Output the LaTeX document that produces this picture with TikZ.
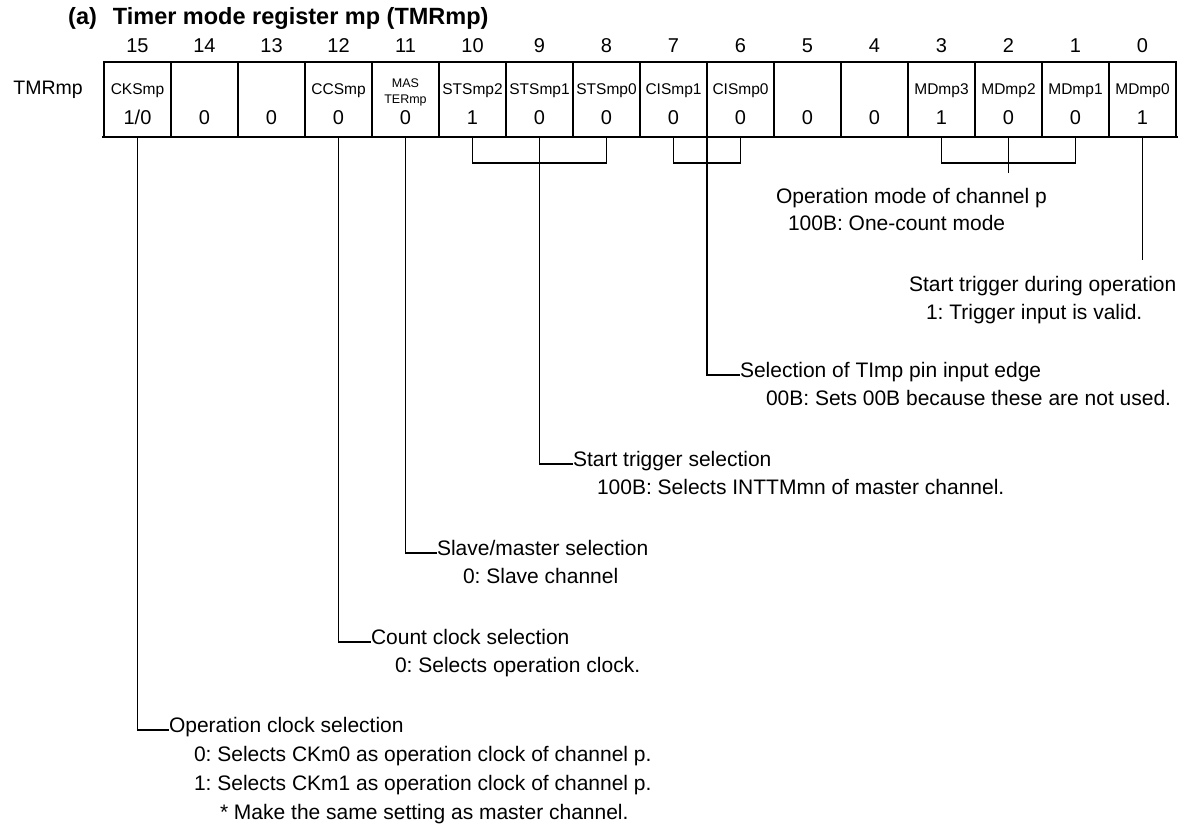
\documentclass[tikz,border=0pt]{standalone}
\usepackage{fontspec}
\setmainfont{Liberation Sans}
\frenchspacing
\begin{document}
\begin{tikzpicture}[x=1pt,y=-1pt,
  cell/.style={draw,line width=1.5pt,minimum width=67pt,minimum height=75pt,inner sep=0pt,outer sep=0pt,anchor=north west},
  txt/.style={inner sep=0pt,outer sep=0pt,anchor=base west,font=\fontsize{21}{25}\selectfont},
  num/.style={inner sep=0pt,font=\fontsize{20}{24}\selectfont},
  nm/.style={inner sep=0pt,anchor=base,font=\fontsize{15.5}{18}\selectfont},
  smallnm/.style={inner sep=0pt,anchor=base,font=\fontsize{12.5}{15}\selectfont},
  val/.style={inner sep=0pt,anchor=base,font=\fontsize{20}{24}\selectfont},
  lead/.style={line width=1.6pt}]
\useasboundingbox[fill=white] (0,0) rectangle (1188,834);

% title
\node[inner sep=0pt,anchor=base west,font=\fontsize{23.5}{28}\selectfont\bfseries] (title) at (68,25) {(a)\hspace{16pt}Timer mode register mp (TMRmp)};
\node[inner sep=0pt,anchor=base east,font=\fontsize{19.5}{23}\selectfont] (reg) at (83,95) {TMRmp};

% cells and bit numbers
\foreach \b in {15,...,0}{
  \pgfmathsetmacro{\xx}{104+(15-\b)*67}
  \node[cell] (c\b) at (\xx,62) {};
  \node[num] (n\b) at (\xx+33.5,46) {\b};
}
% names
\foreach \b/\t in {15/CKSmp,12/CCSmp,10/STSmp2,9/STSmp1,8/STSmp0,7/CISmp1,6/CISmp0,3/MDmp3,2/MDmp2,1/MDmp1,0/MDmp0}{
  \node[nm] (t\b) at ([yshift=-32.5pt]c\b.north) {\t};
}
\node[smallnm] (t11a) at ([yshift=-25.5pt]c11.north) {MAS};
\node[smallnm] (t11b) at ([yshift=-41.5pt]c11.north) {TERmp};
% values
\foreach \b/\v in {15/1\slash 0,14/0,13/0,12/0,11/0,10/1,9/0,8/0,7/0,6/0,5/0,4/0,3/1,2/0,1/0,0/1}{
  \node[val] (v\b) at ([yshift=-63pt]c\b.north) {\v};
}
% outer frame
\draw[line width=2pt] (c15.south west) rectangle (c0.north east);
\draw[line width=2.8pt] ([xshift=-2pt]c15.south west) -- ([xshift=2pt]c0.south east);

% descriptions
\node[txt] (hmd) at (776,204) {Operation mode of channel p};
\node[txt] (vmd) at (788,231) {100B: One-count mode};
\node[txt] (hst) at (909,291) {Start trigger during operation};
\node[txt] (vst) at (926,319) {1: Trigger input is valid.};
\node[txt] (hcis) at (740,377) {Selection of TImp pin input edge};
\node[txt] (vcis) at (766,405) {00B: Sets 00B because these are not used.};
\node[txt] (hsts) at (573,466) {Start trigger selection};
\node[txt] (vsts) at (597,494) {100B: Selects INTTMmn of master channel.};
\node[txt] (hms) at (437,555) {Slave/master selection};
\node[txt] (vms) at (463,583) {0: Slave channel};
\node[txt] (hcc) at (371,644) {Count clock selection};
\node[txt] (vcc) at (395,672) {0: Selects operation clock.};
\node[txt] (hck) at (169,732) {Operation clock selection};
\node[txt] (vck0) at (194,761) {0: Selects CKm0 as operation clock of channel p.};
\node[txt] (vck1) at (194,790) {1: Selects CKm1 as operation clock of channel p.};
\node[txt] (vck2) at (220,819) {* Make the same setting as master channel.};

% connectors
\draw[lead] (c10.south) -- ++(0,26) -| (c8.south);
\draw[lead] (c7.south) -- ++(0,26) -| (c6.south);
\draw[lead] (c3.south) -- ++(0,26) -| (c1.south);
\draw[lead] (c2.south) -- ++(0,36) coordinate (mdend);
\draw[lead] (c0.south) -- ++(0,123) coordinate (mdzend);
\draw[lead] (c7.south east) |- ([yshift=2pt]hcis.base west);
\draw[lead] (c9.south) |- ([yshift=2pt]hsts.base west);
\draw[lead] (c11.south) |- ([yshift=2pt]hms.base west);
\draw[lead] (c12.south) |- ([yshift=2pt]hcc.base west);
\draw[lead] (c15.south) |- ([yshift=2pt]hck.base west);
\end{tikzpicture}
\end{document}
